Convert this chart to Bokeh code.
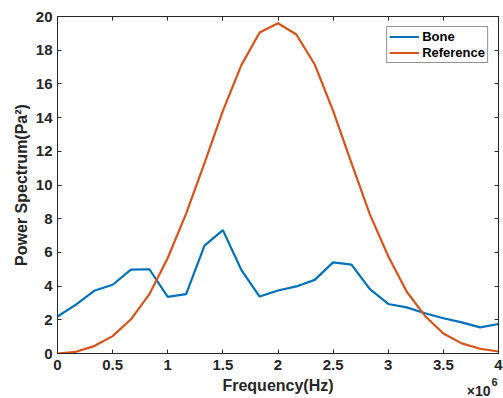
from bokeh.plotting import figure
from bokeh.models import Range1d, LinearAxis, FixedTicker, Legend, LegendItem, Title
from bokeh.embed import file_html
from bokeh.resources import INLINE

# Data
freq_hz = [0, 0.1667e6, 0.3333e6, 0.5e6, 0.6667e6, 0.8333e6, 1.0e6, 1.1667e6, 1.3333e6,
           1.5e6, 1.6667e6, 1.8333e6, 2.0e6, 2.1667e6, 2.3333e6, 2.5e6, 2.6667e6,
           2.8333e6, 3.0e6, 3.1667e6, 3.3333e6, 3.5e6, 3.6667e6, 3.8333e6, 4.0e6]
bone = [2.19, 2.9, 3.72, 4.08, 4.98, 5.0, 3.36, 3.52, 6.4, 7.32, 4.97, 3.38, 3.74,
        3.98, 4.37, 5.41, 5.27, 3.82, 2.94, 2.74, 2.39, 2.09, 1.85, 1.55, 1.75]
reference = [0.0, 0.1, 0.44, 1.03, 2.03, 3.52, 5.67, 8.3, 11.3, 14.4, 17.1, 19.05, 19.6,
             18.93, 17.15, 14.4, 11.3, 8.26, 5.77, 3.68, 2.23, 1.19, 0.6, 0.28, 0.12]
series_names = ["Bone", "Reference"]

x_tick_values = [0, 0.5e6, 1.0e6, 1.5e6, 2.0e6, 2.5e6, 3.0e6, 3.5e6, 4.0e6]
x_tick_labels = ["0", "0.5", "1", "1.5", "2", "2.5", "3", "3.5", "4"]
y_tick_values = [0, 2, 4, 6, 8, 10, 12, 14, 16, 18, 20]
y_tick_labels = ["0", "2", "4", "6", "8", "10", "12", "14", "16", "18", "20"]

x_label = "Frequency(Hz)"
y_label = "Power Spectrum(Pa²)"
x_exponent_base = "×10"
x_exponent = "6"

BLUE = "#0072BD"
ORANGE = "#D95319"
DARK = "#262626"
FONT = "Liberation Sans"

p = figure(width=503, height=398, output_backend="svg", toolbar_location=None,
           x_range=Range1d(0, 4e6), y_range=Range1d(0, 20),
           min_border_left=57, min_border_right=5, min_border_top=16, min_border_bottom=45,
           x_axis_location=None, y_axis_location=None)
p.background_fill_color = "white"
p.border_fill_color = "white"
p.outline_line_color = DARK
p.outline_line_width = 1
p.xgrid.visible = False
p.ygrid.visible = False


def style_axis(ax, ticks, labels, show_labels):
    ax.ticker = FixedTicker(ticks=ticks)
    if show_labels:
        ax.major_label_overrides = {v: l for v, l in zip(ticks, labels)}
    else:
        ax.major_label_overrides = {v: "" for v in ticks}
    ax.axis_line_color = DARK
    ax.major_tick_line_color = DARK
    ax.major_tick_in = 4
    ax.major_tick_out = 0
    ax.minor_tick_line_color = None
    ax.major_label_text_font = FONT
    ax.major_label_text_font_style = "bold"
    ax.major_label_text_color = DARK
    ax.major_label_text_font_size = "15px"
    ax.axis_label_text_font = FONT
    ax.axis_label_text_font_style = "bold"
    ax.axis_label_text_color = DARK
    ax.axis_label_text_font_size = "16px"


xb = LinearAxis(axis_label=x_label)
style_axis(xb, x_tick_values, x_tick_labels, True)
xb.major_label_standoff = 6
xb.axis_label_standoff = 4
p.add_layout(xb, "below")

yl = LinearAxis(axis_label=y_label)
style_axis(yl, y_tick_values, y_tick_labels, True)
yl.major_label_standoff = 5
yl.axis_label_standoff = 3
p.add_layout(yl, "left")

xt = LinearAxis()
style_axis(xt, x_tick_values, x_tick_labels, False)
p.add_layout(xt, "above")

yr = LinearAxis()
style_axis(yr, y_tick_values, y_tick_labels, False)
p.add_layout(yr, "right")

r1 = p.line(freq_hz, bone, line_color=BLUE, line_width=2.2)
r2 = p.line(freq_hz, reference, line_color=ORANGE, line_width=2.2)

legend = Legend(items=[LegendItem(label=series_names[0], renderers=[r1]),
                       LegendItem(label=series_names[1], renderers=[r2])],
                location="top_right")
legend.label_text_font = FONT
legend.label_text_font_style = "bold"
legend.label_text_font_size = "13px"
legend.label_text_color = "black"
legend.border_line_color = DARK
legend.border_line_width = 1
legend.background_fill_color = "white"
legend.background_fill_alpha = 1
legend.padding = 2
legend.spacing = 1
legend.margin = 10
legend.glyph_width = 30
legend.glyph_height = 13
legend.label_height = 13
legend.label_standoff = 3
p.add_layout(legend)

# x-axis exponent "×10^6": titles in the bottom panel, pulled up beside the axis label
exp_base = Title(text=x_exponent_base, align="right", vertical_align="top", offset=8,
                 standoff=-27, text_font=FONT, text_font_style="bold",
                 text_font_size="14px", text_color=DARK)
exp_pow = Title(text=x_exponent, align="right", vertical_align="top", offset=1,
                standoff=-37, text_font=FONT, text_font_style="bold",
                text_font_size="11px", text_color=DARK)
p.add_layout(exp_base, "below")
p.add_layout(exp_pow, "below")

open("out.html", "w").write(file_html(p, INLINE))
